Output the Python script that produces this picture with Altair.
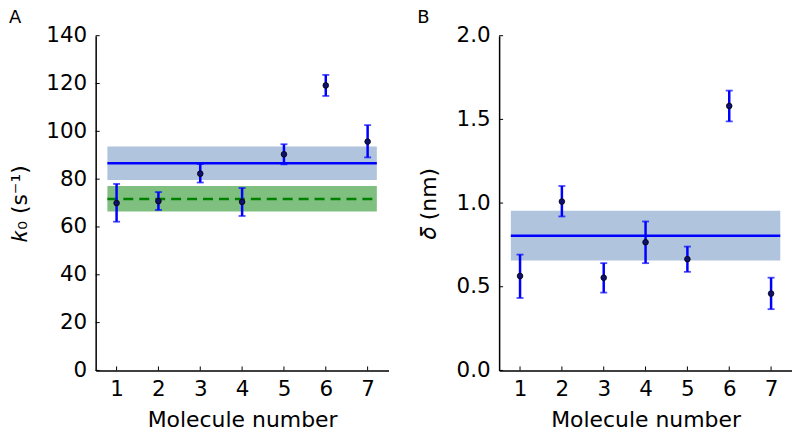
import altair as alt
import pandas as pd

molecules = [1, 2, 3, 4, 5, 6, 7]

k0 = [70.0, 70.8, 82.3, 70.5, 90.4, 119.2, 95.7]
k0_lo = [62.2, 67.1, 78.6, 64.6, 86.2, 114.8, 89.1]
k0_hi = [78.0, 74.6, 86.3, 76.3, 94.6, 123.6, 102.6]

delta = [0.564, 1.009, 0.554, 0.766, 0.665, 1.580, 0.459]
delta_lo = [0.433, 0.920, 0.465, 0.641, 0.589, 1.488, 0.366]
delta_hi = [0.692, 1.102, 0.641, 0.890, 0.740, 1.672, 0.554]

band_x = [0.78, 7.22]

k0_mean = [86.7]
k0_band = [79.6, 93.7]
k0_ref = [71.7]
k0_ref_band = [66.5, 77.1]

delta_mean = [0.805]
delta_band = [0.657, 0.954]

k0_ticks = [0, 20, 40, 60, 80, 100, 120, 140]
delta_ticks = [0.0, 0.5, 1.0, 1.5, 2.0]

W_A, W_B, H = 294, 294, 336

FONT = "DejaVu Sans"


def panel(vals, lo, hi, ydom, yticks, yfmt, ytitle, letter, bands, lines, width, tpad):
    df = pd.DataFrame({"m": molecules, "v": vals, "lo": lo, "hi": hi})
    xs = alt.Scale(domain=[0.5, 7.5], nice=False, zero=False)
    ys = alt.Scale(domain=ydom, nice=False, zero=False)
    xax = alt.Axis(values=molecules, format="d", title="Molecule number",
                   labelPadding=8, titlePadding=10)
    yax = alt.Axis(values=yticks, format=yfmt, title=ytitle,
                   labelPadding=9, titlePadding=tpad)
    layers = []
    for (blo, bhi, col, op) in bands:
        bdf = pd.DataFrame({"x": [band_x[0]], "x2": [band_x[1]], "y": [blo], "y2": [bhi]})
        layers.append(
            alt.Chart(bdf).mark_rect(color=col, opacity=op).encode(
                x=alt.X("x:Q", scale=xs, axis=xax),
                x2="x2:Q",
                y=alt.Y("y:Q", scale=ys, axis=yax),
                y2="y2:Q",
            )
        )
    for (lv, col, dash) in lines:
        ldf = pd.DataFrame({"x": [band_x[0]], "x2": [band_x[1]], "y": [lv]})
        kw = dict(color=col, strokeWidth=2.5)
        if dash:
            kw["strokeDash"] = dash
        layers.append(
            alt.Chart(ldf).mark_rule(**kw).encode(
                x=alt.X("x:Q", scale=xs, axis=xax), x2="x2:Q",
                y=alt.Y("y:Q", scale=ys, axis=yax),
            )
        )
    base = alt.Chart(df)
    layers.append(
        base.mark_rule(color="#0000ff", strokeWidth=2.5).encode(
            x=alt.X("m:Q", scale=xs, axis=xax),
            y=alt.Y("lo:Q", scale=ys, axis=yax), y2="hi:Q",
        )
    )
    for f in ["lo", "hi"]:
        layers.append(
            base.mark_tick(color="#0000ff", orient="horizontal", size=7, thickness=1.8).encode(
                x=alt.X("m:Q", scale=xs, axis=xax),
                y=alt.Y(f + ":Q", scale=ys, axis=yax),
            )
        )
    layers.append(
        base.mark_point(filled=True, color="#101070", stroke="black", strokeWidth=0.8,
                        size=32, opacity=1, shape="circle").encode(
            x=alt.X("m:Q", scale=xs, axis=xax),
            y=alt.Y("v:Q", scale=ys, axis=yax),
        )
    )
    # inward ticks
    ytdf = pd.DataFrame({"t": yticks})
    layers.append(
        alt.Chart(ytdf).mark_rule(color="black", strokeWidth=1).encode(
            y=alt.Y("t:Q", scale=ys, axis=yax), x=alt.value(0), x2=alt.value(4)
        )
    )
    xtdf = pd.DataFrame({"t": molecules})
    layers.append(
        alt.Chart(xtdf).mark_rule(color="black", strokeWidth=1).encode(
            x=alt.X("t:Q", scale=xs, axis=xax), y=alt.value(H), y2=alt.value(H - 4)
        )
    )
    return alt.layer(*layers).properties(
        width=width, height=H,
        title=alt.TitleParams(letter, anchor="start", frame="bounds", fontSize=18,
                              font=FONT, fontWeight="normal", color="black", offset=-2),
    )


a = panel(k0, k0_lo, k0_hi, [0, 140], k0_ticks, "d", "𝑘₀ (s⁻¹)", "A",
          [(k0_band[0], k0_band[1], "#b0c4de", 1.0), (k0_ref_band[0], k0_ref_band[1], "#008000", 0.5)],
          [(k0_mean[0], "#0000ff", None), (k0_ref[0], "#008000", [10, 6])], W_A, 14)
b = panel(delta, delta_lo, delta_hi, [0, 2], delta_ticks, ".1f", "𝛿 (nm)", "B",
          [(delta_band[0], delta_band[1], "#b0c4de", 1.0)],
          [(delta_mean[0], "#0000ff", None)], W_B, 16)

chart = alt.hconcat(a, b, spacing=28).properties(padding=0).configure_view(
    stroke=None
).configure_axis(
    grid=False, ticks=False, domainColor="black", domainWidth=1.5,
    labelFont=FONT, labelFontSize=21.5, labelColor="black",
    titleFont=FONT, titleFontSize=22, titleFontWeight="normal", titleColor="black",
)

chart.save("out.html", embed_options={"renderer": "svg", "actions": False})
